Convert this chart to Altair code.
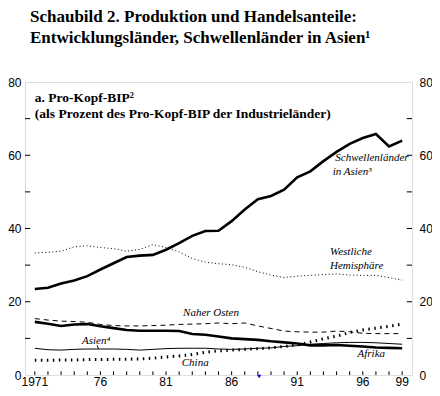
import altair as alt
import pandas as pd

years = list(range(1971, 2000))
schwellen = [23.5, 23.8, 25.0, 25.8, 27.0, 28.8, 30.5, 32.2, 32.6, 32.8, 34.2, 36.0, 38.0, 39.3, 39.4,
             42.0, 45.2, 48.0, 48.9, 50.6, 54.0, 55.6, 58.4, 60.9, 63.1, 64.7, 65.8, 62.4, 64.0]
westlich = [33.3, 33.5, 33.8, 35.0, 35.3, 34.8, 34.5, 33.8, 34.3, 35.6, 34.8, 33.6, 31.8, 30.8, 30.4,
            30.1, 29.4, 28.2, 27.3, 26.6, 27.0, 27.2, 27.4, 27.6, 27.3, 27.2, 27.2, 26.6, 25.9]
nahost = [15.4, 15.0, 14.7, 14.6, 14.4, 13.8, 13.5, 13.4, 13.4, 13.5, 13.6, 13.8, 13.9, 14.0, 14.2,
          14.0, 14.2, 13.4, 12.7, 12.0, 11.8, 11.7, 11.7, 12.0, 11.8, 11.4, 11.3, 11.3, 11.3]
afrika = [14.5, 14.0, 13.4, 13.8, 13.9, 13.3, 12.8, 12.3, 12.1, 12.1, 12.1, 12.0, 11.2, 11.0, 10.5,
          10.0, 9.8, 9.6, 9.2, 8.9, 8.6, 8.1, 8.1, 8.2, 8.0, 7.8, 7.5, 7.4, 7.3]
asien = [7.3, 6.9, 6.8, 7.0, 7.1, 7.1, 7.1, 7.0, 6.8, 7.0, 7.2, 7.3, 7.3, 7.3, 7.1,
         7.0, 7.1, 7.3, 7.4, 7.8, 8.0, 8.4, 8.6, 8.8, 8.9, 8.9, 8.8, 8.6, 8.4]
china = [4.0, 4.0, 4.1, 4.1, 4.2, 4.2, 4.3, 4.3, 4.4, 4.6, 4.9, 5.2, 5.6, 6.2, 6.6,
         6.8, 7.0, 7.2, 7.4, 7.8, 8.2, 9.0, 9.9, 10.6, 11.6, 12.3, 12.8, 13.3, 13.9]

x_tick_values = [1971, 1976, 1981, 1986, 1991, 1996, 1999]
x_tick_text = ["1971", "76", "81", "86", "91", "96", "99"]
y_tick_labels = [0, 20, 40, 60, 80]
y_minor = [10, 20, 30, 40, 50, 60, 70]

title_lines = ["Schaubild 2. Produktion und Handelsanteile:",
               "Entwicklungsländer, Schwellenländer in Asien¹"]
header_text = ["a. Pro-Kopf-BIP²", "(als Prozent des Pro-Kopf-BIP der Industrieländer)"]
header_x = [1971, 1971]
header_y = [74.5, 70.2]

label_text = ["Schwellenländer", "in Asien³", "Westliche", "Hemisphäre", "Naher Osten",
              "Asien⁴", "China", "Afrika"]
label_x = [1993.9, 1993.7, 1993.5, 1993.5, 1982.3, 1974.6, 1982.2, 1995.6]
label_y = [58.4, 54.6, 32.8, 29.0, 16.2, 8.4, 2.4, 4.8]

series = [("Schwellen", schwellen), ("Westlich", westlich), ("Nahost", nahost),
          ("Afrika", afrika), ("Asien", asien), ("China", china)]
rows = []
for name, vals in series:
    for yr, v in zip(years, vals):
        rows.append({"Jahr": yr, "Wert": v, "Region": name})
df = pd.DataFrame(rows)

x_scale = alt.Scale(domain=[1970.25, 1999.75], nice=False, zero=False)
y_scale = alt.Scale(domain=[0, 80], nice=False)

AXFONT = "Liberation Sans"

y_axis_left = alt.Axis(values=y_tick_labels, orient="left", ticks=False, tickSize=0, domain=False,
                       grid=False, title=None, labelFont=AXFONT, labelFontSize=12,
                       labelColor="black", labelPadding=4, labelFlush=False)
y_axis_right = alt.Axis(values=y_tick_labels, orient="right", ticks=False, tickSize=0, domain=False,
                        grid=False, title=None, labelFont=AXFONT, labelFontSize=12,
                        labelColor="black", labelPadding=7, labelFlush=False)

base = alt.Chart(df)


def line(name, first=False, **kw):
    return base.transform_filter(alt.datum.Region == name).mark_line(
        color="black", strokeCap="butt", **kw).encode(
        x=alt.X("Jahr:Q", scale=x_scale, axis=None),
        y=alt.Y("Wert:Q", scale=y_scale, axis=y_axis_left if first else None),
    )


l_schw = line("Schwellen", first=True, strokeWidth=2.6)
l_west = line("Westlich", strokeWidth=1, strokeDash=[1, 2.5])
l_nah = line("Nahost", strokeWidth=1, strokeDash=[5, 4])
l_afr = line("Afrika", strokeWidth=2.6)
l_asi = line("Asien", strokeWidth=1)
l_chi = line("China", strokeWidth=3, strokeDash=[1.5, 4.5])

# tick marks (inside the frame)
xt = pd.DataFrame({"Jahr": years, "y0": [0] * len(years), "y1": [1.0] * len(years)})
x_ticks = alt.Chart(xt).mark_rule(color="black", strokeWidth=1).encode(
    x=alt.X("Jahr:Q", scale=x_scale, axis=None),
    y=alt.Y("y0:Q", scale=y_scale, axis=None), y2="y1:Q")

xl = pd.DataFrame({"Jahr": x_tick_values, "t": x_tick_text, "y": [-0.6] * len(x_tick_values)})
x_labels = alt.Chart(xl).mark_text(align="center", baseline="top", font=AXFONT, fontSize=12,
                                   color="black").encode(
    x=alt.X("Jahr:Q", scale=x_scale, axis=None),
    y=alt.Y("y:Q", scale=y_scale, axis=None),
    text="t:N")

ylt = pd.DataFrame({"v": y_minor, "x0": [1970.25] * len(y_minor), "x1": [1970.65] * len(y_minor)})
y_ticks_left = alt.Chart(ylt).mark_rule(color="black", strokeWidth=1).encode(
    x=alt.X("x0:Q", scale=x_scale, axis=None), x2="x1:Q",
    y=alt.Y("v:Q", scale=y_scale, axis=None))

yrt = pd.DataFrame({"v": y_minor, "x0": [1999.35] * len(y_minor), "x1": [1999.75] * len(y_minor)})
y_ticks_right = alt.Chart(yrt).mark_rule(color="black", strokeWidth=1).encode(
    x=alt.X("x0:Q", scale=x_scale, axis=None), x2="x1:Q",
    y=alt.Y("v:Q", scale=y_scale, axis=y_axis_right))

hd = pd.DataFrame({"x": header_x, "y": header_y, "t": header_text})
header = alt.Chart(hd).mark_text(align="left", baseline="alphabetic", font="Liberation Serif",
                                 fontWeight="bold", fontSize=13.5, color="black").encode(
    x=alt.X("x:Q", scale=x_scale, axis=None),
    y=alt.Y("y:Q", scale=y_scale, axis=None),
    text="t:N")

lb = pd.DataFrame({"x": label_x, "y": label_y, "t": label_text})
labels = alt.Chart(lb).mark_text(align="left", baseline="alphabetic", font="Liberation Serif",
                                 fontStyle="italic", fontSize=11, color="black").encode(
    x=alt.X("x:Q", scale=x_scale, axis=None),
    y=alt.Y("y:Q", scale=y_scale, axis=None),
    text="t:N")

ptr = pd.DataFrame({"x0": [1975.75], "x1": [1975.85], "y0": [8.1], "y1": [7.2]})
pointer = alt.Chart(ptr).mark_rule(color="black", strokeWidth=1).encode(
    x=alt.X("x0:Q", scale=x_scale, axis=None), x2="x1:Q",
    y=alt.Y("y0:Q", scale=y_scale, axis=None), y2="y1:Q")

mk = pd.DataFrame({"x": [1988.1], "y": [-0.4]})
marker = alt.Chart(mk).mark_point(shape="triangle-down", filled=True, color="#0000ee",
                                  size=18, opacity=1).encode(
    x=alt.X("x:Q", scale=x_scale, axis=None),
    y=alt.Y("y:Q", scale=y_scale, axis=None))

chart = alt.layer(
    l_schw, l_west, l_nah, l_afr, l_asi, l_chi,
    x_ticks, x_labels, y_ticks_left, y_ticks_right, header, labels, pointer, marker
).resolve_axis(y="independent").properties(
    width=387, height=293,
    autosize=alt.AutoSizeParams(type="none"),
    padding={"left": 17, "top": 74, "right": 20, "bottom": 13},
    title=alt.TitleParams(text=title_lines, anchor="start", frame="group", font="Liberation Serif",
                          fontSize=17, fontWeight="bold", color="black", lineHeight=21,
                          offset=29, dx=5),
).configure_view(stroke="black", strokeWidth=1.5).configure(background="white")

chart.save("out.html", embed_options={"renderer": "svg", "actions": False})
